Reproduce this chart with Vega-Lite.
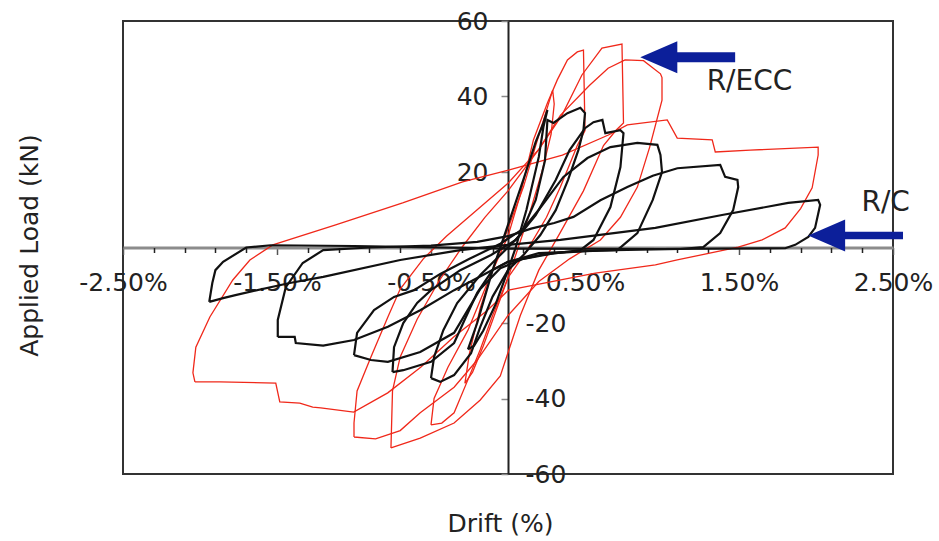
{
"$schema": "https://vega.github.io/schema/vega-lite/v6.json",
"width": 770, "height": 453,
"autosize": {"type": "none"},
"padding": {"left": 123, "top": 21, "right": 46, "bottom": 67},
"background": "white",
"config": {"view": {"stroke": "#333333", "strokeWidth": 2}, "font": "DejaVu Sans"},
"resolve": {"axis": {"x": "independent"}},
"datasets": {
"curves": [
{"s":"R/ECC","c":"R1","i":0,"d":-0.28,"f":-36},{"s":"R/ECC","c":"R1","i":1,"d":-0.25,"f":-28},{"s":"R/ECC","c":"R1","i":2,"d":-0.18,"f":-16},{"s":"R/ECC","c":"R1","i":3,"d":-0.1,"f":-6},{"s":"R/ECC","c":"R1","i":4,"d":0,"f":5},{"s":"R/ECC","c":"R1","i":5,"d":0.1,"f":16},{"s":"R/ECC","c":"R1","i":6,"d":0.18,"f":27},{"s":"R/ECC","c":"R1","i":7,"d":0.24,"f":35},{"s":"R/ECC","c":"R1","i":8,"d":0.29,"f":41.7},{"s":"R/ECC","c":"R1","i":9,"d":0.3,"f":38},{"s":"R/ECC","c":"R1","i":10,"d":0.28,"f":30},{"s":"R/ECC","c":"R1","i":11,"d":0.22,"f":20},{"s":"R/ECC","c":"R1","i":12,"d":0.14,"f":9},{"s":"R/ECC","c":"R1","i":13,"d":0.05,"f":-2},{"s":"R/ECC","c":"R1","i":14,"d":0,"f":-8},{"s":"R/ECC","c":"R1","i":15,"d":-0.08,"f":-17},{"s":"R/ECC","c":"R1","i":16,"d":-0.16,"f":-26},{"s":"R/ECC","c":"R1","i":17,"d":-0.23,"f":-33},{"s":"R/ECC","c":"R1","i":18,"d":-0.28,"f":-36},
{"s":"R/ECC","c":"R2","i":0,"d":-0.5,"f":-47},{"s":"R/ECC","c":"R2","i":1,"d":-0.48,"f":-40},{"s":"R/ECC","c":"R2","i":2,"d":-0.39,"f":-31.7},{"s":"R/ECC","c":"R2","i":3,"d":-0.26,"f":-21.9},{"s":"R/ECC","c":"R2","i":4,"d":-0.12,"f":-8},{"s":"R/ECC","c":"R2","i":5,"d":0,"f":3},{"s":"R/ECC","c":"R2","i":6,"d":0.08,"f":14},{"s":"R/ECC","c":"R2","i":7,"d":0.165,"f":28.5},{"s":"R/ECC","c":"R2","i":8,"d":0.256,"f":38.3},{"s":"R/ECC","c":"R2","i":9,"d":0.32,"f":44.4},{"s":"R/ECC","c":"R2","i":10,"d":0.386,"f":49.7},{"s":"R/ECC","c":"R2","i":11,"d":0.45,"f":51.8},{"s":"R/ECC","c":"R2","i":12,"d":0.49,"f":52.3},{"s":"R/ECC","c":"R2","i":13,"d":0.5,"f":31},{"s":"R/ECC","c":"R2","i":14,"d":0.45,"f":27},{"s":"R/ECC","c":"R2","i":15,"d":0.4,"f":22},{"s":"R/ECC","c":"R2","i":16,"d":0.34,"f":16},{"s":"R/ECC","c":"R2","i":17,"d":0.25,"f":8},{"s":"R/ECC","c":"R2","i":18,"d":0.12,"f":-1},{"s":"R/ECC","c":"R2","i":19,"d":0,"f":-8},{"s":"R/ECC","c":"R2","i":20,"d":-0.1,"f":-18},{"s":"R/ECC","c":"R2","i":21,"d":-0.18,"f":-27},{"s":"R/ECC","c":"R2","i":22,"d":-0.26,"f":-35},{"s":"R/ECC","c":"R2","i":23,"d":-0.35,"f":-43.8},{"s":"R/ECC","c":"R2","i":24,"d":-0.43,"f":-46.5},{"s":"R/ECC","c":"R2","i":25,"d":-0.5,"f":-47},
{"s":"R/ECC","c":"R3","i":0,"d":-0.76,"f":-53.1},{"s":"R/ECC","c":"R3","i":1,"d":-0.75,"f":-38},{"s":"R/ECC","c":"R3","i":2,"d":-0.7,"f":-29},{"s":"R/ECC","c":"R3","i":3,"d":-0.59,"f":-19},{"s":"R/ECC","c":"R3","i":4,"d":-0.45,"f":-9},{"s":"R/ECC","c":"R3","i":5,"d":-0.3,"f":0},{"s":"R/ECC","c":"R3","i":6,"d":-0.15,"f":8},{"s":"R/ECC","c":"R3","i":7,"d":0,"f":15},{"s":"R/ECC","c":"R3","i":8,"d":0.2,"f":26},{"s":"R/ECC","c":"R3","i":9,"d":0.35,"f":35},{"s":"R/ECC","c":"R3","i":10,"d":0.48,"f":45.7},{"s":"R/ECC","c":"R3","i":11,"d":0.61,"f":52.8},{"s":"R/ECC","c":"R3","i":12,"d":0.74,"f":53.9},{"s":"R/ECC","c":"R3","i":13,"d":0.75,"f":33},{"s":"R/ECC","c":"R3","i":14,"d":0.7,"f":31},{"s":"R/ECC","c":"R3","i":15,"d":0.62,"f":27},{"s":"R/ECC","c":"R3","i":16,"d":0.49,"f":15},{"s":"R/ECC","c":"R3","i":17,"d":0.34,"f":4},{"s":"R/ECC","c":"R3","i":18,"d":0.2,"f":-6},{"s":"R/ECC","c":"R3","i":19,"d":0.08,"f":-18},{"s":"R/ECC","c":"R3","i":20,"d":-0.05,"f":-34},{"s":"R/ECC","c":"R3","i":21,"d":-0.18,"f":-40.4},{"s":"R/ECC","c":"R3","i":22,"d":-0.35,"f":-46.5},{"s":"R/ECC","c":"R3","i":23,"d":-0.57,"f":-50.5},{"s":"R/ECC","c":"R3","i":24,"d":-0.76,"f":-53.1},
{"s":"R/ECC","c":"R4","i":0,"d":-1.0,"f":-50.2},{"s":"R/ECC","c":"R4","i":1,"d":-1.0,"f":-46.5},{"s":"R/ECC","c":"R4","i":2,"d":-0.98,"f":-38},{"s":"R/ECC","c":"R4","i":3,"d":-0.89,"f":-29},{"s":"R/ECC","c":"R4","i":4,"d":-0.78,"f":-18.4},{"s":"R/ECC","c":"R4","i":5,"d":-0.7,"f":-11},{"s":"R/ECC","c":"R4","i":6,"d":-0.55,"f":-3},{"s":"R/ECC","c":"R4","i":7,"d":-0.4,"f":3},{"s":"R/ECC","c":"R4","i":8,"d":-0.2,"f":10},{"s":"R/ECC","c":"R4","i":9,"d":0,"f":17},{"s":"R/ECC","c":"R4","i":10,"d":0.2,"f":26},{"s":"R/ECC","c":"R4","i":11,"d":0.34,"f":35},{"s":"R/ECC","c":"R4","i":12,"d":0.53,"f":43},{"s":"R/ECC","c":"R4","i":13,"d":0.65,"f":47.5},{"s":"R/ECC","c":"R4","i":14,"d":0.76,"f":49.7},{"s":"R/ECC","c":"R4","i":15,"d":0.88,"f":49.5},{"s":"R/ECC","c":"R4","i":16,"d":0.99,"f":46},{"s":"R/ECC","c":"R4","i":17,"d":1.0,"f":45},{"s":"R/ECC","c":"R4","i":18,"d":1.0,"f":39},{"s":"R/ECC","c":"R4","i":19,"d":0.92,"f":26.6},{"s":"R/ECC","c":"R4","i":20,"d":0.84,"f":16},{"s":"R/ECC","c":"R4","i":21,"d":0.73,"f":8},{"s":"R/ECC","c":"R4","i":22,"d":0.6,"f":2},{"s":"R/ECC","c":"R4","i":23,"d":0.4,"f":-3},{"s":"R/ECC","c":"R4","i":24,"d":0.2,"f":-9},{"s":"R/ECC","c":"R4","i":25,"d":0,"f":-18},{"s":"R/ECC","c":"R4","i":26,"d":-0.2,"f":-29.8},{"s":"R/ECC","c":"R4","i":27,"d":-0.35,"f":-37},{"s":"R/ECC","c":"R4","i":28,"d":-0.57,"f":-43.8},{"s":"R/ECC","c":"R4","i":29,"d":-0.7,"f":-48.5},{"s":"R/ECC","c":"R4","i":30,"d":-0.86,"f":-50.7},{"s":"R/ECC","c":"R4","i":31,"d":-1.0,"f":-50.2},
{"s":"R/ECC","c":"R5","i":0,"d":-2.033,"f":-35.6},{"s":"R/ECC","c":"R5","i":1,"d":-2.046,"f":-33.2},{"s":"R/ECC","c":"R5","i":2,"d":-2.027,"f":-26.4},{"s":"R/ECC","c":"R5","i":3,"d":-1.936,"f":-18.4},{"s":"R/ECC","c":"R5","i":4,"d":-1.787,"f":-8.6},{"s":"R/ECC","c":"R5","i":5,"d":-1.676,"f":-3.3},{"s":"R/ECC","c":"R5","i":6,"d":-1.527,"f":0.7},{"s":"R/ECC","c":"R5","i":7,"d":-1.119,"f":6},{"s":"R/ECC","c":"R5","i":8,"d":-0.684,"f":11.8},{"s":"R/ECC","c":"R5","i":9,"d":-0.295,"f":17.4},{"s":"R/ECC","c":"R5","i":10,"d":0.003,"f":20.5},{"s":"R/ECC","c":"R5","i":11,"d":0.353,"f":24.5},{"s":"R/ECC","c":"R5","i":12,"d":0.652,"f":29.8},{"s":"R/ECC","c":"R5","i":13,"d":0.775,"f":32.5},{"s":"R/ECC","c":"R5","i":14,"d":1.034,"f":33.8},{"s":"R/ECC","c":"R5","i":15,"d":1.099,"f":29},{"s":"R/ECC","c":"R5","i":16,"d":1.326,"f":28.5},{"s":"R/ECC","c":"R5","i":17,"d":1.346,"f":25.3},{"s":"R/ECC","c":"R5","i":18,"d":1.573,"f":25.8},{"s":"R/ECC","c":"R5","i":19,"d":2.014,"f":26.6},{"s":"R/ECC","c":"R5","i":20,"d":2.014,"f":24.5},{"s":"R/ECC","c":"R5","i":21,"d":1.975,"f":15.8},{"s":"R/ECC","c":"R5","i":22,"d":1.9,"f":10.3},{"s":"R/ECC","c":"R5","i":23,"d":1.8,"f":5.2},{"s":"R/ECC","c":"R5","i":24,"d":1.65,"f":2},{"s":"R/ECC","c":"R5","i":25,"d":1.495,"f":0.1},{"s":"R/ECC","c":"R5","i":26,"d":1.099,"f":-3.3},{"s":"R/ECC","c":"R5","i":27,"d":0.957,"f":-4.6},{"s":"R/ECC","c":"R5","i":28,"d":0.567,"f":-6.8},{"s":"R/ECC","c":"R5","i":29,"d":0.243,"f":-9.4},{"s":"R/ECC","c":"R5","i":30,"d":0.003,"f":-11.3},{"s":"R/ECC","c":"R5","i":31,"d":-0.133,"f":-16.6},{"s":"R/ECC","c":"R5","i":32,"d":-0.353,"f":-23.7},{"s":"R/ECC","c":"R5","i":33,"d":-0.567,"f":-31.7},{"s":"R/ECC","c":"R5","i":34,"d":-0.781,"f":-38.5},{"s":"R/ECC","c":"R5","i":35,"d":-1.002,"f":-43.6},{"s":"R/ECC","c":"R5","i":36,"d":-1.216,"f":-42.5},{"s":"R/ECC","c":"R5","i":37,"d":-1.268,"f":-42.3},{"s":"R/ECC","c":"R5","i":38,"d":-1.352,"f":-41.2},{"s":"R/ECC","c":"R5","i":39,"d":-1.482,"f":-40.9},{"s":"R/ECC","c":"R5","i":40,"d":-1.508,"f":-35.9},{"s":"R/ECC","c":"R5","i":41,"d":-1.871,"f":-35.6},{"s":"R/ECC","c":"R5","i":42,"d":-2.033,"f":-35.6},
{"s":"R/C","c":"B1","i":0,"d":-0.26,"f":-27},{"s":"R/C","c":"B1","i":1,"d":-0.2,"f":-20},{"s":"R/C","c":"B1","i":2,"d":-0.1,"f":-6},{"s":"R/C","c":"B1","i":3,"d":0,"f":6},{"s":"R/C","c":"B1","i":4,"d":0.1,"f":18},{"s":"R/C","c":"B1","i":5,"d":0.18,"f":28},{"s":"R/C","c":"B1","i":6,"d":0.23,"f":33},{"s":"R/C","c":"B1","i":7,"d":0.256,"f":36.4},{"s":"R/C","c":"B1","i":8,"d":0.23,"f":31.9},{"s":"R/C","c":"B1","i":9,"d":0.2,"f":24},{"s":"R/C","c":"B1","i":10,"d":0.12,"f":10},{"s":"R/C","c":"B1","i":11,"d":0.05,"f":0},{"s":"R/C","c":"B1","i":12,"d":0,"f":-6},{"s":"R/C","c":"B1","i":13,"d":-0.08,"f":-15},{"s":"R/C","c":"B1","i":14,"d":-0.16,"f":-22},{"s":"R/C","c":"B1","i":15,"d":-0.22,"f":-26},{"s":"R/C","c":"B1","i":16,"d":-0.26,"f":-27},
{"s":"R/C","c":"B2","i":0,"d":-0.5,"f":-34.6},{"s":"R/C","c":"B2","i":1,"d":-0.48,"f":-29},{"s":"R/C","c":"B2","i":2,"d":-0.42,"f":-21.9},{"s":"R/C","c":"B2","i":3,"d":-0.33,"f":-14.7},{"s":"R/C","c":"B2","i":4,"d":-0.18,"f":-7.3},{"s":"R/C","c":"B2","i":5,"d":-0.05,"f":-2},{"s":"R/C","c":"B2","i":6,"d":0.08,"f":3.3},{"s":"R/C","c":"B2","i":7,"d":0.18,"f":12.6},{"s":"R/C","c":"B2","i":8,"d":0.24,"f":23},{"s":"R/C","c":"B2","i":9,"d":0.256,"f":33.8},{"s":"R/C","c":"B2","i":10,"d":0.295,"f":33},{"s":"R/C","c":"B2","i":11,"d":0.386,"f":35.6},{"s":"R/C","c":"B2","i":12,"d":0.47,"f":37},{"s":"R/C","c":"B2","i":13,"d":0.5,"f":35.6},{"s":"R/C","c":"B2","i":14,"d":0.49,"f":31.1},{"s":"R/C","c":"B2","i":15,"d":0.457,"f":25.8},{"s":"R/C","c":"B2","i":16,"d":0.39,"f":17.9},{"s":"R/C","c":"B2","i":17,"d":0.31,"f":9.9},{"s":"R/C","c":"B2","i":18,"d":0.21,"f":3.3},{"s":"R/C","c":"B2","i":19,"d":0.1,"f":-2},{"s":"R/C","c":"B2","i":20,"d":0,"f":-6},{"s":"R/C","c":"B2","i":21,"d":-0.1,"f":-13},{"s":"R/C","c":"B2","i":22,"d":-0.18,"f":-21},{"s":"R/C","c":"B2","i":23,"d":-0.24,"f":-28},{"s":"R/C","c":"B2","i":24,"d":-0.35,"f":-33.8},{"s":"R/C","c":"B2","i":25,"d":-0.44,"f":-35.6},{"s":"R/C","c":"B2","i":26,"d":-0.5,"f":-34.6},
{"s":"R/C","c":"B3","i":0,"d":-0.75,"f":-33},{"s":"R/C","c":"B3","i":1,"d":-0.74,"f":-26.4},{"s":"R/C","c":"B3","i":2,"d":-0.68,"f":-20},{"s":"R/C","c":"B3","i":3,"d":-0.59,"f":-14.7},{"s":"R/C","c":"B3","i":4,"d":-0.5,"f":-11.3},{"s":"R/C","c":"B3","i":5,"d":-0.31,"f":-6},{"s":"R/C","c":"B3","i":6,"d":-0.11,"f":-2},{"s":"R/C","c":"B3","i":7,"d":0.05,"f":2},{"s":"R/C","c":"B3","i":8,"d":0.18,"f":8.6},{"s":"R/C","c":"B3","i":9,"d":0.31,"f":17.9},{"s":"R/C","c":"B3","i":10,"d":0.4,"f":25.8},{"s":"R/C","c":"B3","i":11,"d":0.5,"f":31.6},{"s":"R/C","c":"B3","i":12,"d":0.555,"f":33.2},{"s":"R/C","c":"B3","i":13,"d":0.613,"f":33.8},{"s":"R/C","c":"B3","i":14,"d":0.632,"f":30.3},{"s":"R/C","c":"B3","i":15,"d":0.73,"f":31.1},{"s":"R/C","c":"B3","i":16,"d":0.75,"f":30.3},{"s":"R/C","c":"B3","i":17,"d":0.73,"f":21.3},{"s":"R/C","c":"B3","i":18,"d":0.665,"f":10.7},{"s":"R/C","c":"B3","i":19,"d":0.555,"f":2},{"s":"R/C","c":"B3","i":20,"d":0.47,"f":-0.7},{"s":"R/C","c":"B3","i":21,"d":0.21,"f":-2},{"s":"R/C","c":"B3","i":22,"d":0,"f":-3.8},{"s":"R/C","c":"B3","i":23,"d":-0.1,"f":-6},{"s":"R/C","c":"B3","i":24,"d":-0.2,"f":-12},{"s":"R/C","c":"B3","i":25,"d":-0.28,"f":-19},{"s":"R/C","c":"B3","i":26,"d":-0.35,"f":-25.3},{"s":"R/C","c":"B3","i":27,"d":-0.5,"f":-30.3},{"s":"R/C","c":"B3","i":28,"d":-0.68,"f":-32.5},{"s":"R/C","c":"B3","i":29,"d":-0.75,"f":-33},
{"s":"R/C","c":"B4","i":0,"d":-1.0,"f":-28.5},{"s":"R/C","c":"B4","i":1,"d":-0.98,"f":-22.6},{"s":"R/C","c":"B4","i":2,"d":-0.87,"f":-16.6},{"s":"R/C","c":"B4","i":3,"d":-0.74,"f":-13.1},{"s":"R/C","c":"B4","i":4,"d":-0.61,"f":-11.3},{"s":"R/C","c":"B4","i":5,"d":-0.44,"f":-7},{"s":"R/C","c":"B4","i":6,"d":-0.25,"f":-3},{"s":"R/C","c":"B4","i":7,"d":-0.05,"f":1},{"s":"R/C","c":"B4","i":8,"d":0.1,"f":5},{"s":"R/C","c":"B4","i":9,"d":0.2,"f":10},{"s":"R/C","c":"B4","i":10,"d":0.36,"f":18.7},{"s":"R/C","c":"B4","i":11,"d":0.516,"f":23.7},{"s":"R/C","c":"B4","i":12,"d":0.665,"f":26.6},{"s":"R/C","c":"B4","i":13,"d":0.84,"f":27.7},{"s":"R/C","c":"B4","i":14,"d":0.97,"f":27.2},{"s":"R/C","c":"B4","i":15,"d":0.99,"f":24.5},{"s":"R/C","c":"B4","i":16,"d":1.0,"f":20},{"s":"R/C","c":"B4","i":17,"d":0.94,"f":12.6},{"s":"R/C","c":"B4","i":18,"d":0.84,"f":3.8},{"s":"R/C","c":"B4","i":19,"d":0.71,"f":-0.7},{"s":"R/C","c":"B4","i":20,"d":0.5,"f":-1},{"s":"R/C","c":"B4","i":21,"d":0.3,"f":-1.5},{"s":"R/C","c":"B4","i":22,"d":0.1,"f":-3},{"s":"R/C","c":"B4","i":23,"d":-0.05,"f":-5.5},{"s":"R/C","c":"B4","i":24,"d":-0.18,"f":-11},{"s":"R/C","c":"B4","i":25,"d":-0.35,"f":-22.6},{"s":"R/C","c":"B4","i":26,"d":-0.57,"f":-27.7},{"s":"R/C","c":"B4","i":27,"d":-0.78,"f":-30.3},{"s":"R/C","c":"B4","i":28,"d":-0.89,"f":-29.8},{"s":"R/C","c":"B4","i":29,"d":-1.0,"f":-28.5},
{"s":"R/C","c":"B5","i":0,"d":-1.495,"f":-23.7},{"s":"R/C","c":"B5","i":1,"d":-1.495,"f":-19.2},{"s":"R/C","c":"B5","i":2,"d":-1.443,"f":-10.5},{"s":"R/C","c":"B5","i":3,"d":-1.333,"f":-4.1},{"s":"R/C","c":"B5","i":4,"d":-1.2,"f":-0.7},{"s":"R/C","c":"B5","i":5,"d":-0.9,"f":0},{"s":"R/C","c":"B5","i":6,"d":-0.5,"f":0.5},{"s":"R/C","c":"B5","i":7,"d":-0.2,"f":1.5},{"s":"R/C","c":"B5","i":8,"d":0,"f":3},{"s":"R/C","c":"B5","i":9,"d":0.15,"f":5},{"s":"R/C","c":"B5","i":10,"d":0.3,"f":6.5},{"s":"R/C","c":"B5","i":11,"d":0.425,"f":8.1},{"s":"R/C","c":"B5","i":12,"d":0.6,"f":12.5},{"s":"R/C","c":"B5","i":13,"d":0.775,"f":16},{"s":"R/C","c":"B5","i":14,"d":0.94,"f":19},{"s":"R/C","c":"B5","i":15,"d":1.1,"f":21},{"s":"R/C","c":"B5","i":16,"d":1.378,"f":21.9},{"s":"R/C","c":"B5","i":17,"d":1.41,"f":18.7},{"s":"R/C","c":"B5","i":18,"d":1.49,"f":17.9},{"s":"R/C","c":"B5","i":19,"d":1.495,"f":16},{"s":"R/C","c":"B5","i":20,"d":1.462,"f":9.9},{"s":"R/C","c":"B5","i":21,"d":1.378,"f":3.8},{"s":"R/C","c":"B5","i":22,"d":1.268,"f":0.1},{"s":"R/C","c":"B5","i":23,"d":1.12,"f":-0.4},{"s":"R/C","c":"B5","i":24,"d":0.6,"f":-0.8},{"s":"R/C","c":"B5","i":25,"d":0.2,"f":-1.5},{"s":"R/C","c":"B5","i":26,"d":0,"f":-3.8},{"s":"R/C","c":"B5","i":27,"d":-0.35,"f":-11.3},{"s":"R/C","c":"B5","i":28,"d":-0.57,"f":-16.6},{"s":"R/C","c":"B5","i":29,"d":-0.78,"f":-21},{"s":"R/C","c":"B5","i":30,"d":-1.0,"f":-24.5},{"s":"R/C","c":"B5","i":31,"d":-1.2,"f":-26},{"s":"R/C","c":"B5","i":32,"d":-1.378,"f":-25.3},{"s":"R/C","c":"B5","i":33,"d":-1.385,"f":-23.7},{"s":"R/C","c":"B5","i":34,"d":-1.495,"f":-23.7},
{"s":"R/C","c":"B6","i":0,"d":-1.94,"f":-14.4},{"s":"R/C","c":"B6","i":1,"d":-1.85,"f":-13.4},{"s":"R/C","c":"B6","i":2,"d":-1.77,"f":-12.6},{"s":"R/C","c":"B6","i":3,"d":-1.417,"f":-9.4},{"s":"R/C","c":"B6","i":4,"d":-1.2,"f":-7.8},{"s":"R/C","c":"B6","i":5,"d":-0.7,"f":-3.3},{"s":"R/C","c":"B6","i":6,"d":-0.31,"f":-0.7},{"s":"R/C","c":"B6","i":7,"d":0,"f":0.7},{"s":"R/C","c":"B6","i":8,"d":0.34,"f":2},{"s":"R/C","c":"B6","i":9,"d":0.957,"f":5.2},{"s":"R/C","c":"B6","i":10,"d":1.39,"f":8.6},{"s":"R/C","c":"B6","i":11,"d":1.82,"f":11.8},{"s":"R/C","c":"B6","i":12,"d":2.014,"f":12.6},{"s":"R/C","c":"B6","i":13,"d":2.027,"f":11.3},{"s":"R/C","c":"B6","i":14,"d":1.994,"f":5.2},{"s":"R/C","c":"B6","i":15,"d":1.95,"f":2.8},{"s":"R/C","c":"B6","i":16,"d":1.865,"f":0.7},{"s":"R/C","c":"B6","i":17,"d":1.8,"f":-0.2},{"s":"R/C","c":"B6","i":18,"d":1.0,"f":-0.4},{"s":"R/C","c":"B6","i":19,"d":0,"f":-0.3},{"s":"R/C","c":"B6","i":20,"d":-1.0,"f":0.4},{"s":"R/C","c":"B6","i":21,"d":-1.54,"f":0.6},{"s":"R/C","c":"B6","i":22,"d":-1.7,"f":0},{"s":"R/C","c":"B6","i":23,"d":-1.85,"f":-3.8},{"s":"R/C","c":"B6","i":24,"d":-1.9,"f":-6},{"s":"R/C","c":"B6","i":25,"d":-1.92,"f":-9.4},{"s":"R/C","c":"B6","i":26,"d":-1.94,"f":-14.4}
],
"arrows": [
{"a":"R/ECC","xt":0.859,"x1":1.05,"x2":1.475,"y":50.4},
{"a":"R/C","xt":1.949,"x1":2.14,"x2":2.565,"y":3.2}
],
"notes": [
{"t":"R/ECC","x":1.29,"y":43.9},
{"t":"R/C","x":2.295,"y":11.8}
]
},
"layer": [
{
"data": {"name": "curves"},
"transform": [{"filter": "datum.s == 'R/ECC'"}],
"mark": {"type": "line", "color": "#f0281a", "strokeWidth": 1.3, "clip": true},
"encoding": {
"x": {"field": "d", "type": "quantitative",
"scale": {"domain": [-2.5, 2.5], "nice": false, "zero": false},
"axis": {
"orient": "bottom", "offset": -226.5,
"values": [-2.5,-1.5,-0.5,0.5,1.5,2.5],
"labelExpr": "datum.value + '0%'",
"labelFont": "DejaVu Sans", "labelFontSize": 25, "labelColor": "#222222",
"labelPadding": 16, "labelOverlap": false, "labelFlush": false, "labelBound": false,
"tickSize": 7, "tickWidth": 1.5, "tickColor": "#555555",
"domainColor": "#8c8c8c", "domainWidth": 3, "grid": false,
"title": "Drift (%)", "titleFont": "DejaVu Sans", "titleFontSize": 25, "titleFontWeight": "normal", "titleColor": "#222222",
"titleX": 377, "titleY": 263.5, "titleBaseline": "top", "titleAlign": "center", "titleAngle": 0
}},
"y": {"field": "f", "type": "quantitative",
"scale": {"domain": [-60, 60], "nice": false, "zero": false},
"axis": {
"orient": "left", "offset": -385,
"values": [-60,-55,-50,-45,-40,-35,-30,-25,-20,-15,-10,-5,0,5,10,15,20,25,30,35,40,45,50,55,60],
"labelExpr": "datum.value % 20 == 0 && datum.value != 0 ? '' + datum.value : ''",
"labelAlign": {"condition": {"test": "datum.value < 0", "value": "left"}, "value": "right"},
"labelPadding": {"condition": {"test": "datum.value < 0", "value": -24}, "value": 13},
"labelBaseline": "middle",
"labelFont": "DejaVu Sans", "labelFontSize": 25, "labelColor": "#222222",
"labelOverlap": false, "labelFlush": false, "labelBound": false,
"tickSize": 7, "tickWidth": 1.5,
"tickColor": {"condition": {"test": "datum.value % 20 == 0", "value": "#888888"}, "value": "#333333"},
"domainColor": "#222222", "domainWidth": 2, "grid": false,
"title": "Applied Load (kN)", "titleFont": "DejaVu Sans", "titleFontSize": 25, "titleFontWeight": "normal", "titleColor": "#222222",
"titleX": -466, "titleY": 224, "titleAngle": 270, "titleBaseline": "bottom", "titleAlign": "center"
}},
"detail": {"field": "c"},
"order": {"field": "i", "type": "quantitative"}
}
},
{
"data": {"name": "curves"},
"transform": [{"filter": "datum.s == 'R/C'"}],
"mark": {"type": "line", "color": "#111111", "strokeWidth": 2.2, "clip": true},
"encoding": {
"x": {"field": "d", "type": "quantitative",
"axis": {
"orient": "bottom", "offset": -226.5,
"values": [-2.3,-2.1,-1.9,-1.7,-1.3,-1.1,-0.9,-0.7,-0.3,-0.1,0.1,0.3,0.7,0.9,1.1,1.3,1.7,1.9,2.1,2.3],
"labels": false, "domain": false, "grid": false, "title": null,
"tickSize": 5, "tickWidth": 1.5, "tickColor": "#222222"
}},
"y": {"field": "f", "type": "quantitative"},
"detail": {"field": "c"},
"order": {"field": "i", "type": "quantitative"}
}
},
{
"data": {"name": "arrows"},
"mark": {"type": "rule", "color": "#0c1f9a"},
"encoding": {
"x": {"field": "x1", "type": "quantitative", "axis": null},
"x2": {"field": "x2"},
"y": {"field": "y", "type": "quantitative"},
"strokeWidth": {"condition": {"test": "datum.a == 'R/C'", "value": 7.5}, "value": 10}
}
},
{
"data": {"name": "arrows"},
"mark": {"type": "point", "shape": "M0,0L2,-0.865L2,0.865Z", "filled": true, "color": "#0c1f9a", "opacity": 1, "size": 1369, "strokeWidth": 0},
"encoding": {
"x": {"field": "xt", "type": "quantitative", "axis": null},
"y": {"field": "y", "type": "quantitative"}
}
},
{
"data": {"name": "notes"},
"mark": {"type": "text", "align": "left", "baseline": "middle", "font": "DejaVu Sans", "fontSize": 28, "color": "#222222"},
"encoding": {
"x": {"field": "x", "type": "quantitative", "axis": null},
"y": {"field": "y", "type": "quantitative"},
"text": {"field": "t"}
}
}
]
}
